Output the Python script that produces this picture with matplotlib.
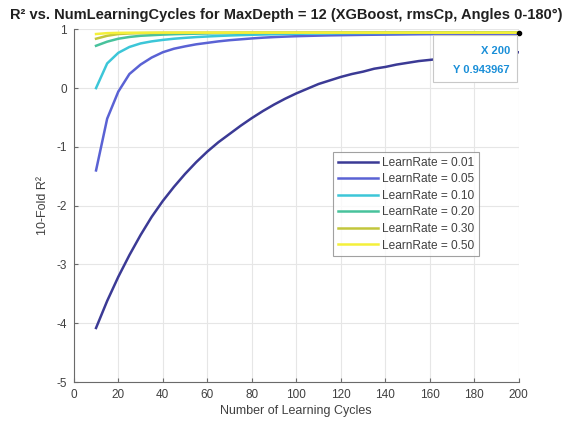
import matplotlib
matplotlib.use("Agg")
import matplotlib.pyplot as plt

plt.rcParams['font.family'] = ['Liberation Sans', 'DejaVu Sans']

cycles = [10, 15, 20, 25, 30, 35, 40, 45, 50, 55, 60, 65, 70, 75, 80, 85, 90, 95, 100,
          105, 110, 115, 120, 125, 130, 135, 140, 145, 150, 155, 160, 165, 170, 175, 180,
          185, 190, 195, 200]
r2_lr001 = [-4.08, -3.62, -3.21, -2.84, -2.50, -2.19, -1.92, -1.68, -1.46, -1.26, -1.08,
            -0.92, -0.78, -0.64, -0.51, -0.39, -0.28, -0.18, -0.09, -0.01, 0.07, 0.13,
            0.19, 0.24, 0.28, 0.33, 0.36, 0.40, 0.43, 0.46, 0.48, 0.50, 0.52, 0.54, 0.56,
            0.57, 0.59, 0.60, 0.61]
r2_lr005 = [-1.40, -0.52, -0.06, 0.24, 0.40, 0.52, 0.61, 0.67, 0.71, 0.745, 0.77, 0.795,
            0.815, 0.83, 0.845, 0.858, 0.868, 0.876, 0.883, 0.888, 0.893, 0.897, 0.900,
            0.903, 0.906, 0.908, 0.910, 0.912, 0.914, 0.916, 0.917, 0.918, 0.919, 0.920,
            0.921, 0.922, 0.923, 0.924, 0.925]
r2_lr010 = [0.00, 0.42, 0.60, 0.70, 0.76, 0.795, 0.82, 0.84, 0.855, 0.868, 0.878, 0.887,
            0.895, 0.901, 0.907, 0.912, 0.916, 0.920, 0.923, 0.926, 0.928, 0.930, 0.932,
            0.934, 0.935, 0.936, 0.937, 0.938, 0.939, 0.940, 0.940, 0.941, 0.941, 0.942,
            0.942, 0.943, 0.943, 0.943, 0.944]
r2_lr020 = [0.72, 0.79, 0.84, 0.87, 0.89, 0.90, 0.91, 0.917, 0.922, 0.926, 0.930, 0.933,
            0.935, 0.937, 0.938, 0.939, 0.940, 0.941, 0.941, 0.942, 0.942, 0.943, 0.943,
            0.943, 0.943, 0.944, 0.944, 0.944, 0.944, 0.944, 0.944, 0.944, 0.944, 0.944,
            0.944, 0.944, 0.944, 0.944, 0.944]
r2_lr030 = [0.84, 0.89, 0.92, 0.93, 0.935, 0.938, 0.940, 0.941, 0.942, 0.942, 0.943, 0.943,
            0.943, 0.944, 0.944, 0.944, 0.944, 0.944, 0.944, 0.944, 0.944, 0.944, 0.944,
            0.944, 0.944, 0.944, 0.944, 0.944, 0.944, 0.944, 0.944, 0.944, 0.944, 0.944,
            0.944, 0.944, 0.944, 0.944, 0.944]
r2_lr050 = [0.92, 0.935, 0.940, 0.942, 0.943, 0.943, 0.944, 0.944, 0.944, 0.944, 0.944,
            0.944, 0.944, 0.944, 0.944, 0.944, 0.944, 0.944, 0.944, 0.944, 0.944, 0.944,
            0.944, 0.944, 0.944, 0.944, 0.944, 0.944, 0.944, 0.944, 0.944, 0.944, 0.944,
            0.944, 0.944, 0.944, 0.944, 0.944, 0.944]
labels = ['LearnRate = 0.01', 'LearnRate = 0.05', 'LearnRate = 0.10',
          'LearnRate = 0.20', 'LearnRate = 0.30', 'LearnRate = 0.50']
colors = ['#3b3a95', '#5a62d4', '#3cc6d8', '#48c29c', '#c2c63c', '#f4f03a']
series = [r2_lr001, r2_lr005, r2_lr010, r2_lr020, r2_lr030, r2_lr050]

tip_x = 200
tip_y = 0.943967

fig = plt.figure(figsize=(5.72, 4.25), dpi=100)
ax = fig.add_axes([0.129, 0.101, 0.778, 0.830])

for ys, c, lab in zip(series, colors, labels):
    ax.plot(cycles, ys, color=c, lw=1.8, label=lab, solid_joinstyle='round')

ax.set_xlim(0, 200)
ax.set_ylim(-5, 1)
ax.set_xticks(range(0, 201, 20))
ax.set_yticks(range(-5, 2))
ax.set_yticklabels(['-5', '-4', '-3', '-2', '-1', '0', '1'])
ax.grid(True, color='#e6e6e6', lw=0.8)
ax.set_axisbelow(True)
for s in ['top', 'right']:
    ax.spines[s].set_visible(False)
for s in ['left', 'bottom']:
    ax.spines[s].set_color('#6a6a6a')
    ax.spines[s].set_linewidth(0.8)
ax.tick_params(direction='in', length=3, colors='#6a6a6a', labelcolor='#404040',
               labelsize=8.5, pad=5)

ax.set_xlabel('Number of Learning Cycles', fontsize=9, color='#404040', labelpad=3)
ax.set_ylabel('10-Fold R²', fontsize=9, color='#404040', labelpad=5)
fig.text(0.5, 1 - 15 / 425,
         'R² vs. NumLearningCycles for MaxDepth = 12 (XGBoost, rmsCp, Angles 0-180°)',
         ha='center', va='center', fontsize=10.5, fontweight='bold', color='#202020')

leg = ax.legend(loc='upper left', bbox_to_anchor=(0.582, 0.652), borderaxespad=0,
                fontsize=8.6, frameon=True, fancybox=False, handlelength=3.4,
                handletextpad=0.35, labelspacing=0.38, borderpad=0.4)
leg.get_frame().set_edgecolor('#8a8a8a')
leg.get_frame().set_linewidth(0.8)
for t in leg.get_texts():
    t.set_color('#404040')

# data tip
ax.plot([tip_x], [tip_y], 'o', color='black', ms=3, zorder=6, clip_on=False)
fig.patches.append(matplotlib.patches.Rectangle((433 / 572, 1 - 82 / 425), 84 / 572, 47 / 425,
                   transform=fig.transFigure, facecolor='white', edgecolor='#c8c8c8', lw=0.8, zorder=10))
fig.text(510 / 572, 1 - 51 / 425, f'X {tip_x}', ha='right', va='center', fontsize=8,
         color='#1a8fd8', fontweight='bold', zorder=11)
fig.text(510 / 572, 1 - 70 / 425, f'Y {tip_y:.6f}', ha='right', va='center', fontsize=8,
         color='#1a8fd8', fontweight='bold', zorder=11)

fig.savefig('out.png', dpi=100)
